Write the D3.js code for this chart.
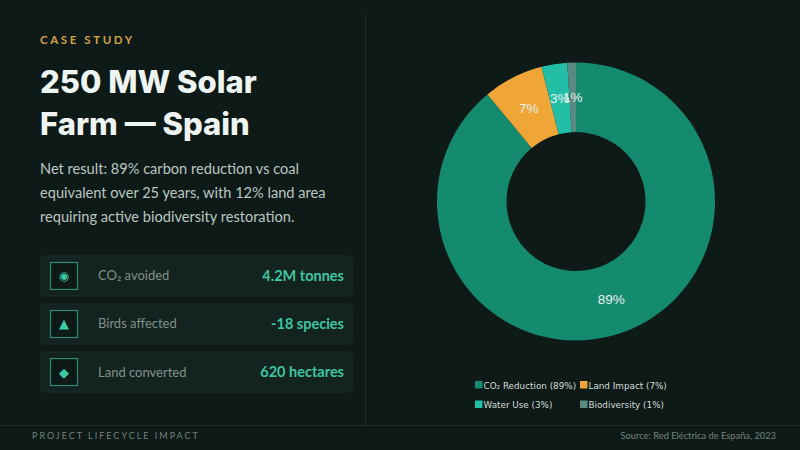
<!DOCTYPE html>
<html>
<head>
<meta charset="utf-8">
<script src="https://cdn.jsdelivr.net/npm/d3@7"></script>
<style>
  html,body{margin:0;padding:0;background:#0e1a17;}
  svg{display:block;}
</style>
</head>
<body>
<svg id="chart" width="800" height="450"></svg>
<script>
// ---- data ----
const categories = ["CO\u2082 Reduction", "Land Impact", "Water Use", "Biodiversity"];
const values = [89, 7, 3, 1];
const palette = ["#148b6f", "#f0a636", "#22bea6", "#5a8a81"];

const metricLabels = ["CO\u2082 avoided", "Birds affected", "Land converted"];
const metricValues = ["4.2M tonnes", "-18 species", "620 hectares"];
const metricIcons = ["\u25C9", "\u25B2", "\u25C6"];

const eyebrow = "CASE STUDY";
const titleLines = ["250 MW Solar", "Farm \u2014 Spain"];
const bodyLines = [
  "Net result: 89% carbon reduction vs coal",
  "equivalent over 25 years, with 12% land area",
  "requiring active biodiversity restoration."
];
const footerLeft = "PROJECT LIFECYCLE IMPACT";
const footerRight = "Source: Red El\u00e9ctrica de Espa\u00f1a, 2023";

// ---- drawing ----
const svg = d3.select("#chart");
svg.append("rect").attr("width", 800).attr("height", 450).attr("fill", "#0e1a17");

// dividers
svg.append("line").attr("x1", 365.5).attr("x2", 365.5).attr("y1", 13).attr("y2", 425)
  .attr("stroke", "#1d2c29").attr("stroke-width", 1);
svg.append("line").attr("x1", 0).attr("x2", 800).attr("y1", 425.5).attr("y2", 425.5)
  .attr("stroke", "#1d2c29").attr("stroke-width", 1);

// eyebrow
svg.append("text").attr("x", 40).attr("y", 43.5)
  .attr("font-family", "Lato, sans-serif").attr("font-weight", 700)
  .attr("font-size", 11.5).attr("letter-spacing", 2.6)
  .attr("fill", "#d3a046").text(eyebrow);

// title
svg.append("g").selectAll("text").data(titleLines).join("text")
  .attr("x", 40).attr("y", (d, i) => 92.5 + i * 42)
  .attr("font-family", "Inter, 'Open Sans', sans-serif").attr("font-weight", 800)
  .attr("font-size", 31).attr("letter-spacing", 0)
  .attr("fill", "#eef4f2").text(d => d);

// body
svg.append("g").selectAll("text").data(bodyLines).join("text")
  .attr("x", 40).attr("y", (d, i) => 173.5 + i * 24)
  .attr("font-family", "Lato, sans-serif").attr("font-size", 14.6)
  .attr("fill", "#bcc6c2").text(d => d);

// metric cards
const cardY = d3.scaleBand().domain(d3.range(metricLabels.length)).range([256, 392]).paddingInner(0.17).paddingOuter(0);
const cards = svg.append("g").selectAll("g").data(metricLabels).join("g")
  .attr("transform", (d, i) => `translate(41,${cardY(i)})`);
const ch = cardY.bandwidth();
cards.append("rect").attr("width", 311).attr("height", ch).attr("rx", 3)
  .attr("fill", "#122320").attr("stroke", "#1c2f2b").attr("stroke-width", 1);
cards.append("rect").attr("x", 9.5).attr("y", (ch - 27) / 2).attr("width", 27).attr("height", 27)
  .attr("fill", "#0e1a17").attr("stroke", "#2b8a74").attr("stroke-width", 1.2);
cards.append("text").attr("x", 23).attr("y", ch / 2 + 4.5).attr("text-anchor", "middle")
  .attr("font-family", "'DejaVu Sans', sans-serif").attr("font-size", (d, i) => i === 0 ? 12 : 13)
  .attr("fill", "#3cc9a3").text((d, i) => metricIcons[i]);
cards.append("text").attr("x", 57).attr("y", ch / 2 + 4.5)
  .attr("font-family", "Lato, sans-serif").attr("font-size", 13)
  .attr("fill", "#82918c").text(d => d);
cards.append("text").attr("x", 303).attr("y", ch / 2 + 5)
  .attr("text-anchor", "end")
  .attr("font-family", "Lato, sans-serif").attr("font-weight", 700).attr("font-size", 14.5)
  .attr("fill", "#3ec6a0").text((d, i) => metricValues[i]);

// donut
const cx = 576, cy = 201.5, rOuter = 139, rInner = 69.5;
const pie = d3.pie().sort(null).value(d => d)(values);
const arc = d3.arc().innerRadius(rInner).outerRadius(rOuter);
const color = d3.scaleOrdinal().domain(categories).range(palette);
const donut = svg.append("g").attr("transform", `translate(${cx},${cy})`);
donut.selectAll("path").data(pie).join("path")
  .attr("d", arc).attr("fill", (d, i) => color(categories[i]));
donut.selectAll("text").data(pie).join("text")
  .attr("transform", d => `translate(${arc.centroid(d)})`)
  .attr("text-anchor", "middle").attr("dy", "0.36em")
  .attr("font-family", "'Liberation Sans', Arial, sans-serif").attr("font-size", 13.5)
  .attr("fill", "#eaf3f0").text(d => d.value + "%");

// legend
const legendItems = categories.map((c, i) => ({ label: `${c} (${values[i]}%)`, color: palette[i] }));
const colX = [475, 580], rowY = [385, 404.5];
const legend = svg.append("g").selectAll("g").data(legendItems).join("g")
  .attr("transform", (d, i) => `translate(${colX[i % 2]},${rowY[Math.floor(i / 2)]})`);
legend.append("rect").attr("x", 0).attr("y", -4).attr("width", 7.5).attr("height", 7.5)
  .attr("fill", d => d.color);
legend.append("text").attr("x", 8.5).attr("y", 3.5)
  .attr("font-family", "'DejaVu Sans', sans-serif").attr("font-size", 8.8)
  .attr("fill", "#d4dcd9").text(d => d.label);

// footer
svg.append("text").attr("x", 32).attr("y", 439)
  .attr("font-family", "Lato, sans-serif").attr("font-size", 9)
  .attr("letter-spacing", 2.0).attr("fill", "#73837e").text(footerLeft);
svg.append("text").attr("x", 776).attr("y", 439).attr("text-anchor", "end")
  .attr("font-family", "Lato, sans-serif").attr("font-size", 9.3)
  .attr("fill", "#73837e").text(footerRight);
</script>
</body>
</html>
